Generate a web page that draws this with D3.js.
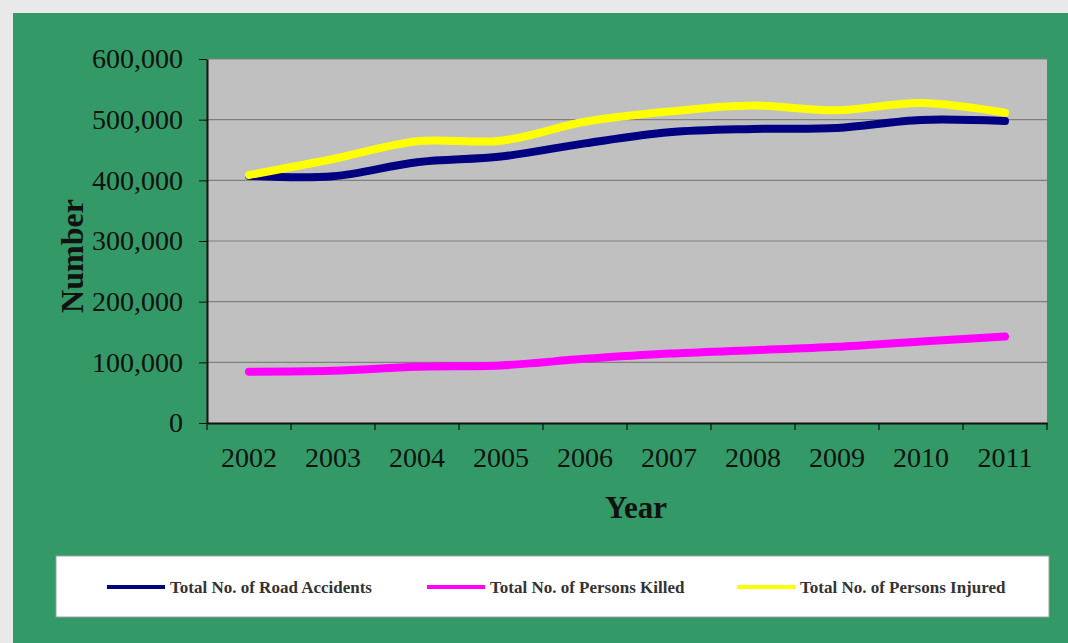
<!DOCTYPE html>
<html>
<head>
<meta charset="utf-8">
<script src="https://cdn.jsdelivr.net/npm/d3@7"></script>
<style>
  body { margin: 0; background: #e9e9e9; }
  text { font-family: "Liberation Serif", "Times New Roman", serif; }
</style>
</head>
<body>
<div id="graphic"></div>
<script>
// data
const years = ["2002", "2003", "2004", "2005", "2006", "2007", "2008", "2009", "2010", "2011"];
const roadAccidents = [407497, 406726, 429910, 439255, 460920, 479216, 484704, 486384, 499628, 497686];
const personsKilled = [84674, 85998, 92618, 94968, 105749, 114444, 119860, 125660, 134513, 142485];
const personsInjured = [408711, 435122, 464521, 465282, 496481, 513340, 523193, 515458, 527512, 511394];
const yTicks = [0, 100000, 200000, 300000, 400000, 500000, 600000];

const series = [
    {name: "Total No. of Road Accidents", values: roadAccidents, color: "#000080"},
    {name: "Total No. of Persons Killed", values: personsKilled, color: "#ff00ff"},
    {name: "Total No. of Persons Injured", values: personsInjured, color: "#ffff00"}
];

const width = 1068, height = 643;
const plot = {left: 207, right: 1047, top: 59, bottom: 423};

const svg = d3.select("#graphic")
              .append("svg")
              .attr("width", width)
              .attr("height", height);

// green panel
svg.append("rect")
   .attr("x", 13).attr("y", 13)
   .attr("width", width - 13).attr("height", height - 13)
   .attr("fill", "#339966");

// plot background
svg.append("rect")
   .attr("x", plot.left).attr("y", plot.top)
   .attr("width", plot.right - plot.left).attr("height", plot.bottom - plot.top)
   .attr("fill", "#c0c0c0");

const x = d3.scaleBand()
            .domain(years)
            .range([plot.left, plot.right]);

const y = d3.scaleLinear()
            .domain([0, 600000])
            .range([plot.bottom, plot.top]);

// gridlines
svg.append("g")
   .selectAll("line")
   .data(yTicks.filter(d => d > 0))
   .join("line")
   .attr("x1", plot.left).attr("x2", plot.right)
   .attr("y1", d => y(d)).attr("y2", d => y(d))
   .attr("stroke", "#808080")
   .attr("stroke-width", 1.2);

// y axis
const yAxis = svg.append("g")
   .attr("transform", "translate(" + plot.left + ",0)")
   .call(d3.axisLeft(y).tickValues(yTicks).tickFormat(d3.format(",")).tickSize(8).tickPadding(16).tickSizeOuter(0));
yAxis.select(".domain").attr("stroke", "#111").attr("stroke-width", 2);
yAxis.selectAll(".tick line").attr("stroke", "#111");
yAxis.selectAll("text").attr("font-size", 28).attr("fill", "#111").attr("font-family", "Liberation Serif");

// x axis
const xAxis = svg.append("g")
   .attr("transform", "translate(0," + plot.bottom + ")")
   .call(d3.axisBottom(x).tickSize(0).tickPadding(24));
xAxis.select(".domain").attr("stroke", "#111").attr("stroke-width", 2);
xAxis.selectAll("text").attr("font-size", 28).attr("fill", "#111").attr("font-family", "Liberation Serif");

// tick marks between categories
xAxis.selectAll(".sep")
     .data(years.concat(["end"]))
     .join("line")
     .attr("class", "sep")
     .attr("x1", (d, i) => plot.left + i * x.step())
     .attr("x2", (d, i) => plot.left + i * x.step())
     .attr("y1", 0).attr("y2", 7)
     .attr("stroke", "#111")
     .attr("stroke-width", 1.2);

// axis titles
svg.append("text")
   .attr("x", 636).attr("y", 518)
   .attr("text-anchor", "middle")
   .attr("font-size", 31).attr("font-weight", "bold").attr("fill", "#111")
   .text("Year");

svg.append("text")
   .attr("transform", "translate(83,256) rotate(-90)")
   .attr("text-anchor", "middle")
   .attr("font-size", 32).attr("font-weight", "bold").attr("fill", "#111")
   .text("Number");

// lines
const line = d3.line()
               .curve(d3.curveCatmullRom)
               .x((d, i) => x(years[i]) + x.bandwidth() / 2)
               .y(d => y(d));

svg.append("g")
   .selectAll("path")
   .data(series)
   .join("path")
   .attr("fill", "none")
   .attr("stroke", d => d.color)
   .attr("stroke-width", 8)
   .attr("stroke-linecap", "round")
   .attr("stroke-linejoin", "round")
   .attr("d", d => line(d.values));

// legend
svg.append("rect")
   .attr("x", 56).attr("y", 556)
   .attr("width", 993).attr("height", 61)
   .attr("fill", "#ffffff")
   .attr("stroke", "#a0a0a0")
   .attr("stroke-width", 1);

const legendX = [107, 427, 737];
const legend = svg.append("g")
   .selectAll("g")
   .data(series)
   .join("g")
   .attr("transform", (d, i) => "translate(" + legendX[i] + ",587)");

legend.append("line")
      .attr("x1", 0).attr("x2", 58)
      .attr("stroke", d => d.color)
      .attr("stroke-width", 4);

legend.append("text")
      .attr("x", 63).attr("y", 6)
      .attr("font-size", 17).attr("font-weight", "bold").attr("fill", "#333")
      .text(d => d.name);
</script>
</body>
</html>
